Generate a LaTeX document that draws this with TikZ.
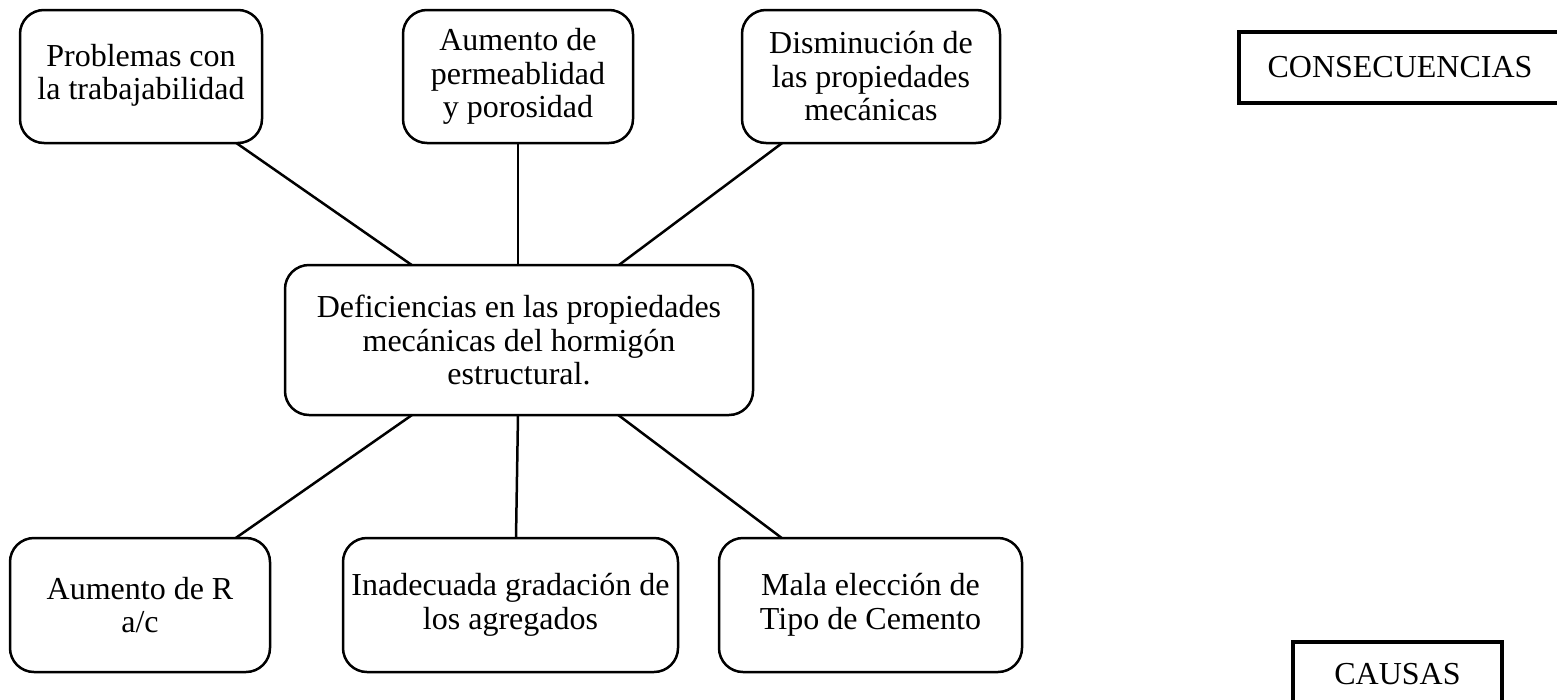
\documentclass[tikz,border=0pt]{standalone}
\usepackage{fontspec}
\setmainfont{Liberation Serif}
\begin{document}
\begin{tikzpicture}[x=1pt,y=-1pt,
  txt/.style={font=\fontsize{32}{33.5}\selectfont, align=center},
  rbox/.style={txt, draw, line width=2.5pt, rounded corners=24pt, fill=white,
               inner sep=0pt, outer sep=0pt},
  tophgt/.style={minimum height=133pt},
  midhgt/.style={minimum height=150pt},
  bothgt/.style={minimum height=134pt},
  tag/.style={txt, draw, line width=4pt, fill=white, inner sep=0pt, outer sep=0pt},
  link/.style={line width=2.5pt}]
\useasboundingbox (0,0) rectangle (1557,699);

% top row (consequences)
\node[rbox, tophgt, minimum width=242pt] (t1) at (141,76.5) {\raisebox{-4pt}{\begin{tabular}{@{}c@{}}Problemas con\\la trabajabilidad\end{tabular}}};
\node[rbox, tophgt, minimum width=230pt] (t2) at (518,76.5) {Aumento de\\permeablidad\\y porosidad};
\node[rbox, tophgt, minimum width=258pt] (t3) at (871,76.5) {Disminución de\\las propiedades\\mecánicas};

% central problem
\node[rbox, midhgt, minimum width=468pt] (c) at (519,340) {Deficiencias en las propiedades\\mecánicas del hormigón\\estructural.};

% bottom row (causes)
\node[rbox, bothgt, minimum width=260pt] (b1) at (140,605) {Aumento de R\\a/c};
\node[rbox, bothgt, minimum width=335pt] (b2) at (510.5,605) {Inadecuada gradación de\\los agregados};
\node[rbox, bothgt, minimum width=303pt] (b3) at (870.5,605) {Mala elección de\\Tipo de Cemento};

% legend tags
\node[tag, minimum width=322pt, minimum height=71pt] (cons) at (1400,67.5) {CONSECUENCIAS};
\node[tag, minimum width=209pt, minimum height=64pt] (caus) at (1397.5,674) {CAUSAS};

% connectors
\draw[link] (t1) -- (c);
\draw[link] (t2.south) -- (c.north -| t2.south);
\draw[link] (t3) -- (c);
\draw[link] (c) -- (b1);
\draw[link] ([xshift=-1pt]c.south) -- ([xshift=5.5pt]b2.north);
\draw[link] (c) -- (b3);
\end{tikzpicture}
\end{document}
